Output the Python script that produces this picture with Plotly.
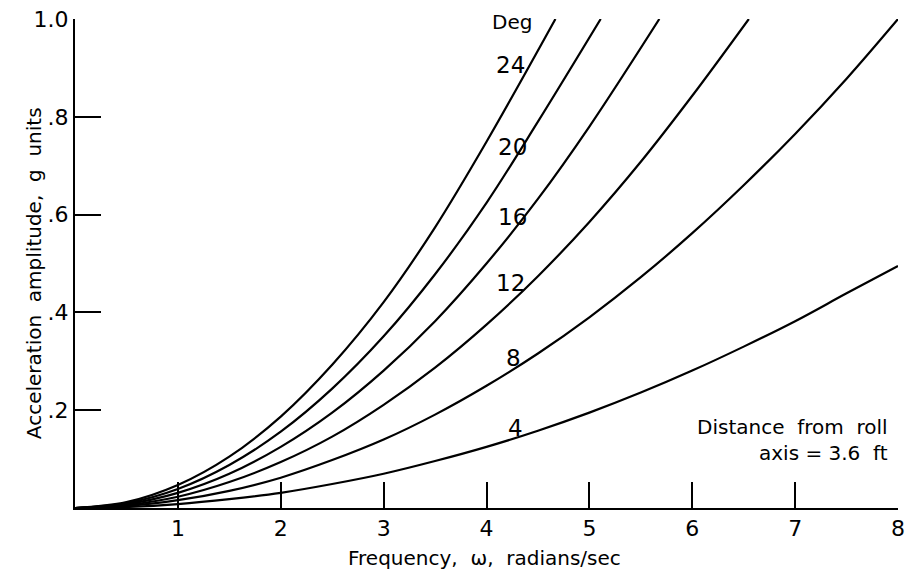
import plotly.graph_objects as go

# Frequency (rad/sec) sample points
omega = [0, 0.5, 1, 1.5, 2, 2.5, 3, 3.5, 4, 4.5, 5, 5.5, 6, 6.5, 7, 7.5, 8]

# Acceleration amplitude (g units)
deg_labels = ["4", "8", "12", "16", "20", "24"]
acc_4 = [0, 0.002, 0.008, 0.018, 0.031, 0.049, 0.070, 0.096, 0.125, 0.158, 0.195, 0.236, 0.281, 0.330, 0.382, 0.439, 0.495]
acc_8 = [0, 0.004, 0.016, 0.035, 0.062, 0.098, 0.140, 0.191, 0.250, 0.316, 0.390, 0.472, 0.562, 0.660, 0.765, 0.878, 1.0]
omega_12 = [0, 0.5, 1, 1.5, 2, 2.5, 3, 3.5, 4, 4.5, 5, 5.5, 6, 6.55]
acc_12 = [0, 0.006, 0.023, 0.053, 0.094, 0.146, 0.211, 0.287, 0.375, 0.474, 0.585, 0.708, 0.843, 1.0]
omega_16 = [0, 0.5, 1, 1.5, 2, 2.5, 3, 3.5, 4, 4.5, 5, 5.68]
acc_16 = [0, 0.008, 0.031, 0.070, 0.125, 0.195, 0.281, 0.382, 0.50, 0.632, 0.78, 1.0]
omega_20 = [0, 0.5, 1, 1.5, 2, 2.5, 3, 3.5, 4, 4.5, 5.11]
acc_20 = [0, 0.010, 0.039, 0.088, 0.156, 0.244, 0.351, 0.478, 0.624, 0.790, 1.0]
omega_24 = [0, 0.5, 1, 1.5, 2, 2.5, 3, 3.5, 4, 4.67]
acc_24 = [0, 0.012, 0.047, 0.105, 0.187, 0.293, 0.421, 0.574, 0.749, 1.0]

# curve label positions (omega, acc)
label_x = [4.28, 4.26, 4.23, 4.25, 4.25, 4.23]
label_y = [0.164, 0.307, 0.46, 0.595, 0.738, 0.906]

x_ticks = [1, 2, 3, 4, 5, 6, 7, 8]
x_ticktext = ["1", "2", "3", "4", "5", "6", "7", "8"]
y_ticks = [0.2, 0.4, 0.6, 0.8, 1.0]
y_ticktext = [".2", ".4", ".6", ".8", "1.0"]

FONT = "DejaVu Sans"
series = [(omega, acc_4), (omega, acc_8), (omega_12, acc_12),
          (omega_16, acc_16), (omega_20, acc_20), (omega_24, acc_24)]

fig = go.Figure()
for (xs, ys), name in zip(series, deg_labels):
    fig.add_trace(go.Scatter(x=xs, y=ys, mode="lines", name=name,
                             line=dict(color="black", width=2.2, shape="spline", smoothing=1),
                             cliponaxis=False, hoverinfo="skip"))

ann = []
for lx, ly, t in zip(label_x, label_y, deg_labels):
    ann.append(dict(x=lx, y=ly, text=t, showarrow=False, xanchor="center", yanchor="middle",
                    font=dict(family=FONT, size=23, color="black")))
ann.append(dict(x=4.25, y=0.993, text="Deg", showarrow=False, xanchor="center", yanchor="middle",
                font=dict(family=FONT, size=20, color="black")))
ann.append(dict(x=7.92, y=0.166, text="Distance  from  roll", showarrow=False, xanchor="right",
                yanchor="middle", font=dict(family=FONT, size=20, color="black")))
ann.append(dict(x=7.92, y=0.112, text="axis = 3.6  ft", showarrow=False, xanchor="right",
                yanchor="middle", font=dict(family=FONT, size=20, color="black")))
ann.append(dict(x=-0.14, y=-0.038, text="0", showarrow=False, xanchor="center", yanchor="middle",
                font=dict(family=FONT, size=22, color="black")))
ann.append(dict(xref="paper", yref="paper", x=0.497, y=-0.102, text="Frequency,  \u03c9,  radians/sec",
                showarrow=False, xanchor="center", yanchor="middle",
                font=dict(family=FONT, size=20, color="black")))
ann.append(dict(xref="paper", yref="paper", x=-0.05, y=0.48, text="Acceleration  amplitude,  g  units",
                showarrow=False, xanchor="center", yanchor="middle", textangle=-90,
                font=dict(family=FONT, size=20, color="black")))

fig.update_layout(
    width=907, height=574,
    margin=dict(l=75, r=9, t=19, b=66, autoexpand=False),
    paper_bgcolor="white", plot_bgcolor="white",
    showlegend=False,
    annotations=ann,
    xaxis=dict(range=[0, 8], tickvals=x_ticks, ticktext=x_ticktext, ticks="inside",
               ticklen=26, tickwidth=2, tickcolor="black", showline=True, linecolor="black",
               linewidth=2, showgrid=False, zeroline=False, automargin=False,
               tickfont=dict(family=FONT, size=22, color="black")),
    yaxis=dict(range=[0, 1.0], tickvals=y_ticks, ticktext=y_ticktext, ticks="inside",
               ticklen=26, tickwidth=2, tickcolor="black", showline=True, linecolor="black",
               linewidth=2, showgrid=False, zeroline=False, automargin=False,
               tickfont=dict(family=FONT, size=22, color="black")),
)

post = ("var h=document.documentElement,b=document.body;"
        "h.style.margin='0';h.style.padding='0';h.style.overflow='hidden';"
        "b.style.margin='0';b.style.padding='0';b.style.overflow='hidden';")

fig.write_html("out.html", config={"displayModeBar": False, "responsive": False},
               post_script=post)
